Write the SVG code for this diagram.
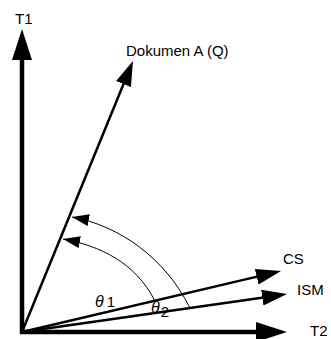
<svg xmlns="http://www.w3.org/2000/svg" width="331" height="339" viewBox="0 0 331 339">
<defs>
<style>
text{font-family:"Liberation Sans",Arial,sans-serif;font-size:15px;fill:#000}
.axis{stroke:#000;stroke-width:4.5;fill:none}
.vec{stroke:#000;stroke-width:2.5;fill:none}
.arc{stroke:#000;stroke-width:1;fill:none}
</style>
<marker id="mAxis" viewBox="0 0 31 20" refX="23" refY="10" markerWidth="31" markerHeight="20" markerUnits="userSpaceOnUse" orient="auto"><path d="M0,0 L31,10 L0,20 Z" fill="#000"/></marker>
<marker id="mVec" viewBox="0 0 25 16" refX="19" refY="8" markerWidth="25" markerHeight="16" markerUnits="userSpaceOnUse" orient="auto"><path d="M0,0 L25,8 L0,16 Z" fill="#000"/></marker>
<marker id="mArc" viewBox="0 0 17 12" refX="17" refY="6" markerWidth="17" markerHeight="12" markerUnits="userSpaceOnUse" orient="auto"><path d="M0,0 L17,6 L0,12 Z" fill="#000"/></marker>
</defs>
<rect width="331" height="339" fill="#fff"/>
<g id="connectors">
<line class="axis" x1="22" y1="334" x2="22" y2="37" marker-end="url(#mAxis)"/>
<line class="axis" x1="20" y1="332" x2="279" y2="332" marker-end="url(#mAxis)"/>
<line class="vec" x1="22" y1="332" x2="130.7" y2="66.5" marker-end="url(#mVec)"/>
<line class="vec" x1="22" y1="332" x2="275.2" y2="272.4" marker-end="url(#mVec)"/>
<line class="vec" x1="22" y1="332" x2="281.1" y2="294.9" marker-end="url(#mVec)"/>
<path class="arc" d="M190,308 C165,258 120,226 72,217" marker-end="url(#mArc)"/>
<path class="arc" d="M155,301 C135,262 100,246 63,239" marker-end="url(#mArc)"/>
</g>
<g id="T1"><text x="15" y="24">T1</text></g>
<g id="T2"><text x="310" y="336">T2</text></g>
<g id="DokumenA"><text x="126" y="56">Dokumen A (Q)</text></g>
<g id="CS"><text x="283" y="264">CS</text></g>
<g id="ISM"><text x="297" y="295">ISM</text></g>
<g id="theta1"><text x="95" y="307"><tspan font-style="italic" font-size="16">θ</tspan><tspan dx="3">1</tspan></text></g>
<g id="theta2"><text x="151" y="313"><tspan font-style="italic" font-size="16">θ</tspan><tspan dx="1" dy="4">2</tspan></text></g>
</svg>
